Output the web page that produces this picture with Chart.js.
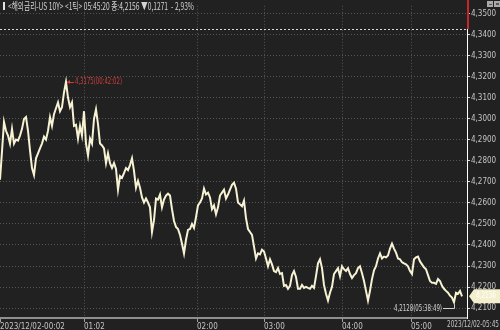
<!DOCTYPE html>
<html><head><meta charset="utf-8">
<script src="https://cdn.jsdelivr.net/npm/chart.js@4"></script>
<style>html,body{margin:0;padding:0;background:#212121;overflow:hidden}</style>
</head><body><canvas id="c" width="500" height="330"></canvas>
<script>
// ---- data (tick index order, one value per sample) ----
const prices = [
4.2710,4.2845,4.2985,4.2943,4.2920,4.2882,4.2952,4.2882,4.2901,4.2896,
4.2920,4.2952,4.2999,4.3008,4.2943,4.2850,4.2766,4.2733,4.2812,4.2836,
4.2859,4.2882,4.2915,4.2901,4.2943,4.3008,4.2966,4.3022,4.3050,4.3078,
4.3036,4.3055,4.3125,4.3175,4.3101,4.3055,4.3078,4.2966,4.2971,4.2906,
4.2966,4.2920,4.3036,4.2882,4.2826,4.2906,4.2882,4.2999,4.3045,4.2975,
4.2882,4.2873,4.2859,4.2789,4.2836,4.2789,4.2766,4.2789,4.2761,4.2663,
4.2728,4.2719,4.2742,4.2766,4.2756,4.2780,4.2812,4.2752,4.2672,4.2705,
4.2672,4.2626,4.2602,4.2621,4.2602,4.2579,4.2462,4.2518,4.2621,4.2616,
4.2640,4.2579,4.2616,4.2635,4.2644,4.2635,4.2570,4.2514,4.2486,4.2476,
4.2448,4.2406,4.2360,4.2425,4.2472,4.2476,4.2500,4.2481,4.2532,4.2588,
4.2602,4.2621,4.2668,4.2640,4.2649,4.2626,4.2570,4.2588,4.2546,4.2579,
4.2635,4.2649,4.2663,4.2621,4.2640,4.2663,4.2686,4.2696,4.2668,4.2602,
4.2593,4.2584,4.2611,4.2528,4.2476,4.2462,4.2448,4.2392,4.2336,4.2360,
4.2355,4.2378,4.2369,4.2336,4.2299,4.2332,4.2308,4.2276,4.2271,4.2290,
4.2262,4.2266,4.2206,4.2210,4.2192,4.2206,4.2257,4.2276,4.2248,4.2192,
4.2192,4.2210,4.2196,4.2201,4.2196,4.2192,4.2206,4.2196,4.2252,4.2313,
4.2332,4.2290,4.2210,4.2168,4.2136,4.2173,4.2201,4.2262,4.2276,4.2290,
4.2252,4.2299,4.2285,4.2276,4.2290,4.2262,4.2243,4.2257,4.2266,4.2290,
4.2299,4.2266,4.2229,4.2182,4.2136,4.2182,4.2238,4.2280,4.2299,4.2336,
4.2360,4.2336,4.2345,4.2341,4.2350,4.2383,4.2406,4.2383,4.2364,4.2336,
4.2332,4.2318,4.2313,4.2308,4.2299,4.2276,4.2262,4.2332,4.2341,4.2345,
4.2322,4.2308,4.2294,4.2285,4.2257,4.2229,4.2220,4.2220,4.2215,4.2238,
4.2229,4.2206,4.2192,4.2182,4.2173,4.2159,4.2150,4.2128,4.2173,4.2168,
4.2182,4.2156
];
const timeTickIdx = [0, 42, 98.5, 132, 171, 205.5];
const timeTickLabels = ['2023/12/02-00:02', '01:02', '02:00', '03:00', '04:00', '05:00'];
const endTimeLabel = '2023/12/02-05:45';
const yTickValues = [4.21, 4.22, 4.23, 4.24, 4.25, 4.26, 4.27, 4.28, 4.29, 4.30, 4.31, 4.32, 4.33, 4.34, 4.35];
const prevClose = 4.3427;
const highTime = '00:42:02';
const lowTime = '05:38:49';
const headerText = '<해외금리-US 10Y> <1틱> 05:45:20 종:4,2156 ▼0,1271  - 2,93%';

const F = "'Liberation Sans Narrow','DejaVu Sans Condensed','Liberation Sans',sans-serif";
const fmt = v => v.toFixed(4).replace('.', ',');

function fitText(ctx, text, x, y, w) {
  const m = ctx.measureText(text).width;
  const s = w / m;
  ctx.save();
  ctx.translate(x, y);
  ctx.scale(s, 1);
  ctx.fillText(text, 0, 0);
  ctx.restore();
}

const deco = {
  id: 'deco',
  beforeDatasetsDraw(chart) {
    const {ctx, chartArea: a, scales: {y}} = chart;
    const pc = Math.round(y.getPixelForValue(prevClose)) + 0.5;
    ctx.save();
    ctx.strokeStyle = '#d8d8d8';
    ctx.lineWidth = 1;
    ctx.setLineDash([2, 2]);
    ctx.beginPath(); ctx.moveTo(a.left, pc); ctx.lineTo(a.right, pc); ctx.stroke();
    ctx.restore();
  },
  afterDraw(chart) {
    const {ctx, chartArea: a, scales: {x, y}} = chart;
    ctx.save();
    // red part of price axis above previous close
    const pc = y.getPixelForValue(prevClose);
    ctx.strokeStyle = '#c62828';
    ctx.lineWidth = 2;
    ctx.beginPath(); ctx.moveTo(a.right + 1, 0); ctx.lineTo(a.right + 1, pc); ctx.stroke();

    // high annotation
    let hi = 0, lo = 0;
    prices.forEach((v, i) => { if (v > prices[hi]) hi = i; if (v < prices[lo]) lo = i; });
    const hx = x.getPixelForValue(hi), hy = y.getPixelForValue(prices[hi]);
    ctx.strokeStyle = '#d23c3c'; ctx.fillStyle = '#d23c3c'; ctx.lineWidth = 1;
    ctx.beginPath(); ctx.moveTo(hx + 1, Math.round(hy) + 0.5); ctx.lineTo(hx + 8, Math.round(hy) + 0.5); ctx.stroke();
    ctx.beginPath(); ctx.moveTo(hx + 1, hy); ctx.lineTo(hx + 4, hy - 2); ctx.lineTo(hx + 4, hy + 2); ctx.closePath(); ctx.fill();
    ctx.font = '8px ' + F; ctx.textBaseline = 'middle'; ctx.textAlign = 'left';
    fitText(ctx, fmt(prices[hi]) + '(' + highTime + ')', hx + 9, hy, 47);

    // low annotation
    const lx = x.getPixelForValue(lo), ly = y.getPixelForValue(prices[lo]);
    ctx.strokeStyle = '#d0d0d0'; ctx.fillStyle = '#d0d0d0';
    const ty = Math.round(ly) + 6.5;
    ctx.beginPath(); ctx.moveTo(lx - 11, ty); ctx.lineTo(Math.round(lx) + 0.5, ty); ctx.lineTo(Math.round(lx) + 0.5, ly + 2); ctx.stroke();
    fitText(ctx, fmt(prices[lo]) + '(' + lowTime + ')', lx - 60, ty, 48);

    // last price box
    const last = prices[prices.length - 1];
    const py = y.getPixelForValue(last);
    ctx.fillStyle = '#f3efcd';
    ctx.beginPath();
    ctx.moveTo(a.right + 2, py); ctx.lineTo(a.right + 7, py - 7); ctx.lineTo(500, py - 7);
    ctx.lineTo(500, py + 7); ctx.lineTo(a.right + 7, py + 7); ctx.closePath(); ctx.fill();
    ctx.fillStyle = '#ffffff';
    fitText(ctx, fmt(last), a.right + 9, py, 20);

    // end time label
    ctx.fillStyle = '#c4c4c4'; ctx.textBaseline = 'top';
    fitText(ctx, endTimeLabel, 447, 321, 52);

    // header
    ctx.fillStyle = '#e0e0e0';
    ctx.fillRect(3, 2, 2, 8);
    ctx.fillStyle = '#d2d2d2';
    ctx.font = "10px 'Noto Sans CJK KR', sans-serif";
    ctx.textBaseline = 'middle';
    fitText(ctx, headerText, 8, 6.5, 186);

    // small buttons top right
    ctx.fillStyle = '#a9a9a9';
    ctx.fillRect(487, 1, 6, 6); ctx.fillRect(494, 1, 6, 6);
    ctx.fillStyle = '#555';
    ctx.fillRect(489, 4, 3, 1); ctx.fillRect(496, 3, 3, 2);
    ctx.restore();
  }
};

new Chart(document.getElementById('c'), {
  type: 'line',
  data: {
    datasets: [{
      data: prices.map((v, i) => ({x: i, y: v})),
      borderColor: '#f6f2d3', borderWidth: 2, pointRadius: 0, tension: 0, fill: false
    }]
  },
  options: {
    responsive: false, animation: false, devicePixelRatio: 1,
    layout: {padding: 0},
    plugins: {legend: {display: false}, tooltip: {enabled: false}},
    scales: {
      x: {
        type: 'linear', min: 0, max: 233.5,
        afterBuildTicks: s => { s.ticks = timeTickIdx.map(v => ({value: v})); },
        afterFit: s => { s.height = 12; },
        ticks: {
          align: 'start', maxRotation: 0, autoSkip: false, padding: 0, color: '#c4c4c4',
          font: {family: F, size: 8},
          callback: v => timeTickLabels[timeTickIdx.indexOf(v)]
        },
        grid: {
          color: c => (c.tick && c.tick.value === 0) ? 'rgba(0,0,0,0)' : '#555555',
          lineWidth: 1, drawTicks: true, tickLength: 4, tickColor: '#a0a0a0', tickWidth: 1
        },
        border: {color: '#8f8f8f', width: 2, dash: [1, 2]}
      },
      y: {
        position: 'right', min: 4.2053, max: 4.3537,
        afterBuildTicks: s => { s.ticks = yTickValues.map(v => ({value: v})); },
        afterFit: s => { s.width = 33; },
        ticks: {padding: 1, color: '#c4c4c4', font: {family: F, size: 8}, callback: v => fmt(v)},
        grid: {color: '#555555', lineWidth: 1, tickLength: 3, tickColor: '#dddddd', tickWidth: 1},
        border: {color: '#ffffff', width: 1, dash: [1, 2]}
      }
    }
  },
  plugins: [deco]
});
</script>
</body></html>
